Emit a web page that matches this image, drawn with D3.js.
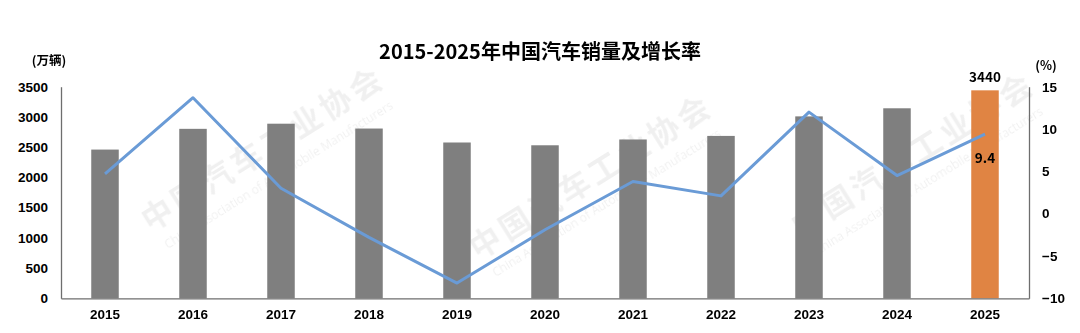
<!DOCTYPE html>
<html>
<head>
<meta charset="utf-8">
<script src="https://cdn.jsdelivr.net/npm/d3@7"></script>
<style>
  body { margin: 0; background: #fff; }
  svg { display: block; font-family: "Noto Sans CJK SC", "Noto Sans", sans-serif; }
  .axis text { font-size: 13.5px; font-weight: bold; fill: #000; }
  .axis .domain { stroke: #6e6e6e; stroke-width: 1.3; }
</style>
</head>
<body>
<script>
// chart data
const years = ['2015', '2016', '2017', '2018', '2019', '2020', '2021', '2022', '2023', '2024', '2025'];
const sales = [2460, 2803, 2888, 2808, 2577, 2531, 2627, 2686, 3009, 3143, 3440];
const growth = [4.7, 13.7, 3.0, -2.8, -8.2, -1.9, 3.8, 2.1, 12.0, 4.5, 9.4];
const salesTicks = [0, 500, 1000, 1500, 2000, 2500, 3000, 3500];
const growthTicks = [-10, -5, 0, 5, 10, 15];

const width = 1080;
const height = 333;
const plot = { left: 61, right: 1029, top: 86.7, bottom: 298.3 };

const svg = d3
  .select('body')
  .append('svg')
  .attr('width', width)
  .attr('height', height);

// faint watermark
const marks = [[150, 232], [478, 260], [800, 238]];
const wm = svg.append('g').attr('fill', '#000').attr('opacity', 0.06);
marks.forEach(([mx, my]) => {
  const g = wm.append('g').attr('transform', `translate(${mx},${my}) rotate(-32)`);
  g.append('text')
    .attr('font-size', 31)
    .attr('font-weight', 'bold')
    .attr('letter-spacing', 4)
    .text('中国汽车工业协会');
  g.append('text')
    .attr('x', 6)
    .attr('y', 24)
    .attr('font-size', 12)
    .attr('font-family', 'Open Sans, sans-serif')
    .text('China Association of Automobile Manufacturers');
});

const x = d3
  .scaleBand()
  .domain(years)
  .range([plot.left, plot.right])
  .paddingInner(0.6875)
  .paddingOuter(0.34375);

const yLeft = d3.scaleLinear().domain([0, 3500]).range([plot.bottom, plot.top]);
const yRight = d3.scaleLinear().domain([-10, 15]).range([plot.bottom, plot.top]);

// bars
svg
  .selectAll('.bar')
  .data(years)
  .enter()
  .append('rect')
  .attr('class', 'bar')
  .attr('x', (d) => x(d))
  .attr('width', x.bandwidth())
  .attr('y', (d, i) => yLeft(sales[i]))
  .attr('height', (d, i) => plot.bottom - yLeft(sales[i]))
  .attr('fill', (d, i) => (i === years.length - 1 ? '#e08443' : '#7f7f7f'));

// axes
svg
  .append('g')
  .attr('class', 'axis')
  .attr('transform', `translate(${plot.left},0)`)
  .call(d3.axisLeft(yLeft).tickValues(salesTicks).tickFormat(d3.format('d')).tickSize(0).tickPadding(13));

svg
  .append('g')
  .attr('class', 'axis')
  .attr('transform', `translate(${plot.right},0)`)
  .call(d3.axisRight(yRight).tickValues(growthTicks).tickFormat(d3.format('d')).tickSize(0).tickPadding(13));

svg
  .append('g')
  .attr('class', 'axis')
  .attr('transform', `translate(0,${plot.bottom})`)
  .call(d3.axisBottom(x).tickSize(0).tickPadding(11));

// growth line
const line = d3
  .line()
  .x((d, i) => x(years[i]) + x.bandwidth() / 2)
  .y((d) => yRight(d));

svg
  .append('path')
  .datum(growth)
  .attr('d', line)
  .attr('fill', 'none')
  .attr('stroke', '#6a9bd6')
  .attr('stroke-width', 3)
  .attr('stroke-linejoin', 'round');

// labels
const last = years.length - 1;
const lastX = x(years[last]) + x.bandwidth() / 2;

svg
  .append('text')
  .attr('x', lastX)
  .attr('y', yLeft(sales[last]) - 14)
  .attr('text-anchor', 'middle')
  .attr('dominant-baseline', 'central')
  .attr('font-size', 13.5)
  .attr('font-weight', 'bold')
  .text(sales[last]);

svg
  .append('text')
  .attr('x', lastX)
  .attr('y', yRight(growth[last]) + 23)
  .attr('text-anchor', 'middle')
  .attr('dominant-baseline', 'central')
  .attr('font-size', 13.5)
  .attr('font-weight', 'bold')
  .text(growth[last]);

svg
  .append('text')
  .attr('x', 540)
  .attr('y', 50)
  .attr('text-anchor', 'middle')
  .attr('dominant-baseline', 'central')
  .attr('font-size', 20)
  .attr('font-weight', 'bold')
  .text('2015-2025年中国汽车销量及增长率');

svg
  .append('text')
  .attr('x', 49)
  .attr('y', 59)
  .attr('text-anchor', 'middle')
  .attr('dominant-baseline', 'central')
  .attr('font-size', 12.5)
  .attr('font-weight', 'bold')
  .text('(万辆)');

svg
  .append('text')
  .attr('x', 1046)
  .attr('y', 64)
  .attr('text-anchor', 'middle')
  .attr('dominant-baseline', 'central')
  .attr('font-size', 12.5)
  .attr('font-weight', 'bold')
  .text('(%)');
</script>
</body>
</html>
